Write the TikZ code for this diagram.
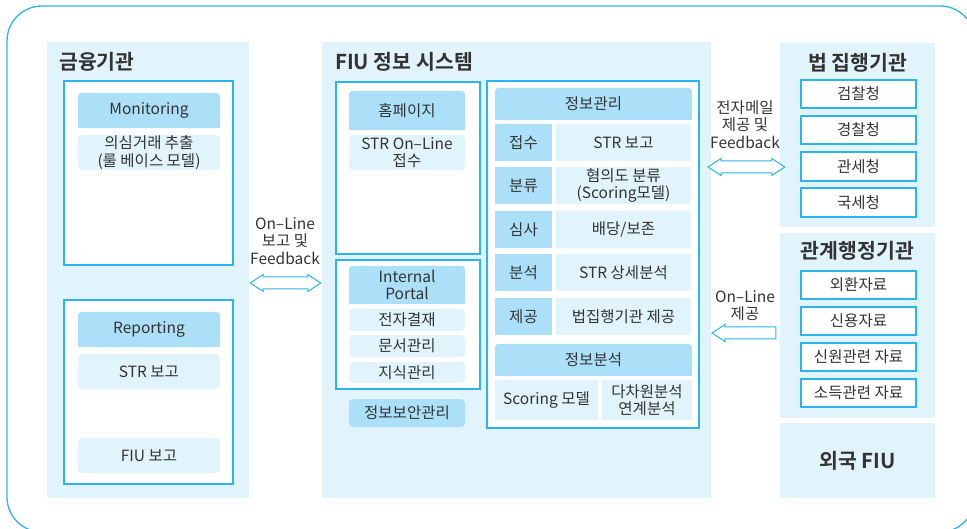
\documentclass[tikz,border=0pt]{standalone}
\usepackage{fontspec}
\setmainfont{Noto Sans CJK KR}[BoldFont={Noto Sans CJK KR Bold}]
\usetikzlibrary{calc}
\pgfdeclarelayer{bg}\pgfdeclarelayer{mid}\pgfsetlayers{bg,mid,main}
\definecolor{panelc}{HTML}{E1F3FB}
\definecolor{hdrc}{HTML}{ABE0F8}
\definecolor{subc}{HTML}{E1F3FB}
\definecolor{linec}{HTML}{2BB5EC}
\definecolor{txtc}{HTML}{333333}
\newcommand\bodyfnt{\fontsize{15.5}{17.5}\selectfont}
\newcommand\ttlfnt{\fontsize{20.5}{23}\selectfont\bfseries}
\newcommand\hdrfill[1]{\begin{pgfonlayer}{mid}\fill[hdrc,rounded corners=4pt](#1.north west) rectangle (#1.south east);\fill[hdrc](#1.west) rectangle (#1.south east);\end{pgfonlayer}}
% \bx[style](name){x1}{y1}{x2}{y2}{text}
\def\bx[#1](#2)#3#4#5#6#7{\node[#1, minimum width={#5-#3}, minimum height={#6-#4}, anchor=center] (#2) at ({(#3+#5)/2},{(#4+#6)/2}) {#7};}
\begin{document}
\begin{tikzpicture}[x=1pt,y=-1pt,
  every node/.style={text=txtc, font=\bodyfnt, inner sep=0pt},
  panel/.style={fill=panelc, draw=none, align=center},
  wbox/.style={fill=white, draw=linec, line width=1.1pt, align=center},
  hdr/.style={align=center},
  subbox/.style={fill=subc, rounded corners=4pt, align=center},
  secbox/.style={fill=hdrc, rounded corners=4pt, align=center},
  cellh/.style={fill=hdrc, align=center},
  cellc/.style={fill=subc, align=center},
  ml/.style={execute at begin node={\rule{0pt}{19pt}}},
  ttl/.style={font=\ttlfnt},
  lbl/.style={align=center},
  arr/.style={draw=linec, line width=1pt, fill=white, line join=miter},
  frame/.style={draw=linec, line width=1.3pt, rounded corners=35pt}]
\useasboundingbox (0,0) rectangle (967,529);
\begin{pgfonlayer}{bg}
\draw[frame] (7,6) rectangle (975,532);
\bx[panel](fin){47}{42}{249}{498}{}
\bx[panel](fiu){322}{42}{711}{498}{}
\bx[panel](law){780}{43}{935}{227}{}
\bx[panel](adm){780}{233}{935}{418}{}
\bx[panel,font=\ttlfnt](ffiu){780}{423}{935}{498}{외국 FIU}
\bx[wbox](monbox){64}{81}{233}{265}{}
\bx[wbox](repbox){64}{300}{233}{484}{}
\bx[wbox](homebox){336}{82}{480}{254}{}
\bx[wbox](portbox){336}{260}{480}{389}{}
\bx[wbox](infobox){487}{81}{699}{428}{}
\end{pgfonlayer}
% titles
\node[ttl, anchor=west] (fintl) at (59,62) {금융기관};
\node[ttl, anchor=west] (fiutl) at (335,62) {FIU 정보 시스템};
\node[ttl] (lawtl) at (857.5,63) {법 집행기관};
\node[ttl] (admtl) at (857.5,251) {관계행정기관};
% financial institutions
\bx[hdr](mon){78}{93}{220}{128}{Monitoring} \hdrfill{mon}
\bx[subbox,ml](monsub){78}{135}{220}{170}{의심거래 추출\\(룰 베이스 모델)}
\bx[hdr](rep){78}{312}{220}{347}{Reporting} \hdrfill{rep}
\bx[subbox](repstr){78}{354}{220}{389}{STR 보고}
\bx[subbox](repfiu){78}{438}{220}{473}{FIU 보고}
% FIU system left column
\bx[hdr](home){349}{91}{465}{130}{홈페이지} \hdrfill{home}
\bx[subbox,ml](homesub){349}{135}{465}{170}{STR On–Line\\접수}
\bx[hdr,ml](portal){349}{266}{465}{304}{Internal\\Portal} \hdrfill{portal}
\bx[subbox](p1){349}{309}{465}{331}{전자결재}
\bx[subbox](p2){349}{335}{465}{357}{문서관리}
\bx[subbox](p3){349}{362}{465}{383}{지식관리}
\bx[secbox](sec){349}{399}{465}{427}{정보보안관리}
% FIU system right column
\bx[hdr](jgl){495}{88}{692}{120}{정보관리} \hdrfill{jgl}
\bx[cellh](r1a){495}{124}{552}{161}{접수}
\bx[cellc](r1b){556}{124}{691}{161}{STR 보고}
\bx[cellh](r2a){495}{167}{552}{204}{분류}
\bx[cellc,ml](r2b){556}{167}{691}{204}{혐의도 분류\\(Scoring모델)}
\bx[cellh](r3a){495}{211}{552}{248}{심사}
\bx[cellc](r3b){556}{211}{691}{248}{배당/보존}
\bx[cellh](r4a){495}{254}{552}{291}{분석}
\bx[cellc](r4b){556}{254}{691}{291}{STR 상세분석}
\bx[cellh](r5a){495}{298}{552}{335}{제공}
\bx[cellc](r5b){556}{298}{691}{335}{법집행기관 제공}
\bx[hdr](jbs){495}{344}{692}{376}{정보분석} \hdrfill{jbs}
\bx[cellc](sc1){495}{380}{598}{420}{Scoring 모델}
\bx[cellc,ml](sc2){602}{380}{692}{420}{다차원분석\\연계분석}
% law enforcement
\bx[wbox](la1){801}{80}{916}{108}{검찰청}
\bx[wbox](la2){801}{116}{916}{144}{경찰청}
\bx[wbox](la3){801}{152}{916}{181}{관세청}
\bx[wbox](la4){801}{188}{916}{217}{국세청}
% administrative
\bx[wbox](ad1){801}{271}{916}{299}{외환자료}
\bx[wbox](ad2){801}{307}{916}{335}{신용자료}
\bx[wbox](ad3){801}{343}{916}{371}{신원관련 자료}
\bx[wbox](ad4){801}{379}{916}{407}{소득관련 자료}
% arrow labels
\node[lbl] (l1) at (285,241) {On–Line\\보고 및\\Feedback};
\node[lbl] (l2) at (745,124.5) {전자메일\\제공 및\\Feedback};
\node[lbl] (l3) at (745,305.5) {On–Line\\제공};
% arrows
\coordinate (a1s) at ($(fin.east)+(1,0)$);
\coordinate (a1s) at (a1s |- 0,283);
\coordinate (a1e) at ($(fiu.west |- a1s)+(-1,0)$);
\draw[arr] (a1s) -- ++(13,-8.5) -- ++(0,2.5) -- ($(a1e)+(-13,-6)$) -- ++(0,-2.5) -- (a1e) -- ++(-13,8.5) -- ++(0,-2.5) -- ($(a1s)+(13,6)$) -- ++(0,2.5) -- cycle;
\coordinate (a2s) at (708,167);
\coordinate (a2e) at ($(law.west |- a2s)+(5,0)$);
\draw[arr] (a2s) -- ++(13,-8.5) -- ++(0,2.5) -- ($(a2e)+(-13,-6)$) -- ++(0,-2.5) -- (a2e) -- ++(-13,8.5) -- ++(0,-2.5) -- ($(a2s)+(13,6)$) -- ++(0,2.5) -- cycle;
\coordinate (a3tip) at (712,333);
\coordinate (a3tail) at ($(adm.west |- a3tip)+(-4,0)$);
\draw[arr] (a3tip) -- ++(13,-8.5) -- ++(0,2.5) -- ($(a3tail)+(0,-6)$) -- ++(0,12) -- ($(a3tip)+(13,6)$) -- ++(0,2.5) -- cycle;
\end{tikzpicture}
\end{document}
